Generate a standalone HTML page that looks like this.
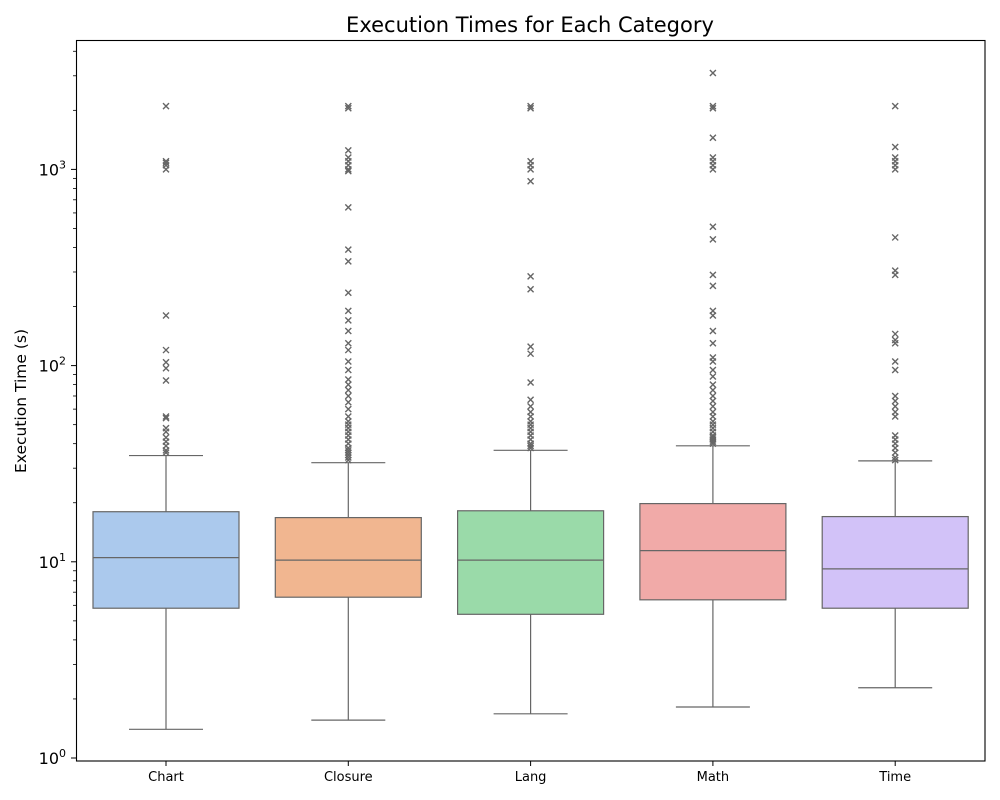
<!DOCTYPE html>
<html><head><meta charset="utf-8"><style>body{margin:0;background:#fff}svg{display:block;font-family:"DejaVu Sans","Liberation Sans",sans-serif}</style></head>
<body>
<svg id="chart" width="1000" height="800" viewBox="0 0 1000 800">
<rect width="1000" height="800" fill="#fff"/>
<text x="530" y="32" font-size="21" text-anchor="middle">Execution Times for Each Category</text>
<text x="26" y="401" font-size="15.5" text-anchor="middle" transform="rotate(-90 26 401)">Execution Time (s)</text>
<g id="plot"></g>
<rect x="76.5" y="40.5" width="908.5" height="720.5" fill="none" stroke="#000" stroke-width="1.1"/>
</svg>
<script>
const categories=["Chart","Closure","Lang","Math","Time"];
const whiskerLow=[1.4,1.56,1.68,1.82,2.28];
const q1=[5.8,6.6,5.4,6.4,5.8];
const median=[10.5,10.2,10.2,11.4,9.2];
const q3=[18,16.8,18.2,19.8,17];
const whiskerHigh=[34.8,32,37,39,32.7];
const outliers=[
[2100,1100,1050,1000,1080,180,120,104,97,84,55,54,48,46,43,41,39,37,36],
[2100,2050,1250,1150,1100,1050,1000,980,640,390,340,235,190,170,150,130,120,105,95,85,80,75,70,65,60,55,52,50,48,46,44,42,40,38,37,36,35,34,33],
[2100,2050,1100,1050,1000,870,285,245,125,115,82,67,62,58,55,52,50,48,46,44,42,40,39,38],
[3100,2100,2050,1450,1150,1100,1050,1000,510,440,290,255,190,180,150,130,110,105,95,88,80,75,70,66,62,58,55,52,50,48,46,44,43,42,41,40],
[2100,1300,1150,1100,1050,1000,450,305,290,145,135,130,105,95,70,66,62,58,55,44,42,40,38,36,34,33]
];
const yTicks=[0,1,2,3];
const colors=["#abc9ed","#f1b690","#9adaa9","#f1aaa8","#d2c2f8"];
const NS="http://www.w3.org/2000/svg";
const g=document.getElementById('plot');
const y=v=>758-196.2*Math.log10(v);
const x=i=>166+182.3*i;
function el(t,a,p){const e=document.createElementNS(NS,t);for(const k in a)e.setAttribute(k,a[k]);(p||g).appendChild(e);return e;}
yTicks.forEach(p=>{
 const t=el('line',{x1:71,x2:76,y1:y(10**p),y2:y(10**p),stroke:'#000'});
 
 const tx=el('text',{x:66,y:y(10**p)+6,'font-size':16,'text-anchor':'end'});
 
 tx.innerHTML='10<tspan dy="-7" font-size="11">'+p+'</tspan>';
 for(let m=2;m<10;m++){const v=m*10**p;if(y(v)<41)continue;const mt=el('line',{x1:73,x2:76,y1:y(v),y2:y(v),stroke:'#000','stroke-width':0.8});
 }
});
categories.forEach((c,i)=>{
 const cx=x(i),hw=73,cw=37;
 const grp=el('g',{});
 
 el('line',{x1:cx,x2:cx,y1:y(whiskerLow[i]),y2:y(q1[i]),stroke:'#666','stroke-width':1.2},grp);
 el('line',{x1:cx,x2:cx,y1:y(q3[i]),y2:y(whiskerHigh[i]),stroke:'#666','stroke-width':1.2},grp);
 el('line',{x1:cx-cw,x2:cx+cw,y1:y(whiskerLow[i]),y2:y(whiskerLow[i]),stroke:'#666','stroke-width':1.2},grp);
 el('line',{x1:cx-cw,x2:cx+cw,y1:y(whiskerHigh[i]),y2:y(whiskerHigh[i]),stroke:'#666','stroke-width':1.2},grp);
 el('rect',{x:cx-hw,y:y(q3[i]),width:2*hw,height:y(q1[i])-y(q3[i]),fill:colors[i],stroke:'#666','stroke-width':1.2},grp);
 el('line',{x1:cx-hw,x2:cx+hw,y1:y(median[i]),y2:y(median[i]),stroke:'#666','stroke-width':1.2},grp);
 outliers[i].forEach(v=>{const yy=y(v);
  const o=el('path',{d:`M${cx-3},${yy-3}L${cx+3},${yy+3}M${cx-3},${yy+3}L${cx+3},${yy-3}`,stroke:'#666','stroke-width':1.4},grp);
  });
 const t=el('line',{x1:cx,x2:cx,y1:761,y2:766,stroke:'#000'});
 
 const tx=el('text',{x:cx,y:781,'font-size':13,'text-anchor':'middle'});
 
 tx.textContent=c;
});
</script>
</body></html>
